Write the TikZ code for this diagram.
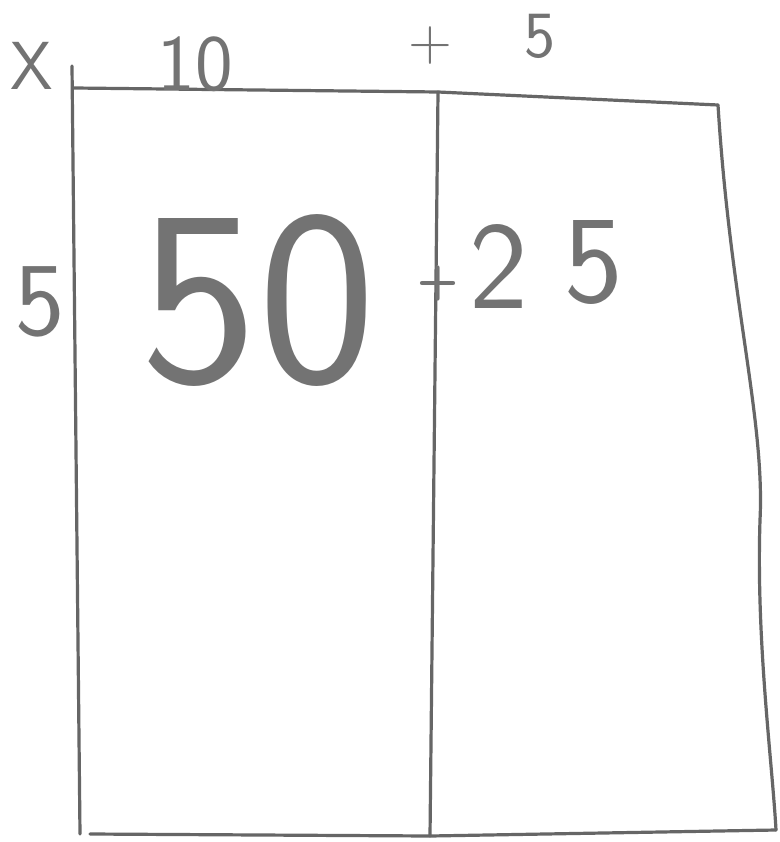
\documentclass[tikz,border=0pt]{standalone}
\begin{document}
\begin{tikzpicture}[x=1pt,y=-1pt,
  pen/.style={draw=black!60, line width=3.2pt, line cap=round, line join=round},
  hand/.style={text=black!55, font=\sffamily, inner sep=0pt}]
\useasboundingbox[fill=white] (0,0) rectangle (779,842);
% corners of the box
\coordinate (tl) at (74,88);
\coordinate (tm) at (438,92);
\coordinate (tr) at (718,105);
\coordinate (bl) at (80,834);
\coordinate (bm) at (430,836);
\coordinate (br) at (776,830);
% left side (runs a bit above the top line)
\draw[pen] (72,66) -- (bl);
% top
\draw[pen] (tl) -- (tm) -- (tr);
% right side, slightly wavy
\draw[pen] (tr) .. controls (730,300) and (765,420) .. (760,520) .. controls (756,640) and (772,760) .. (br);
% bottom
\draw[pen] (90,834) -- (bm) -- (br);
% middle divider
\draw[pen] (tm) -- (bm);
% labels
\node[hand, font=\sffamily\fontsize{68}{68}\selectfont] (x) at (32,66) {X};
\node[hand, font=\sffamily\fontsize{80}{80}\selectfont] (ten) at (195,64) {10};
\node[hand, font=\sffamily\fontsize{60}{60}\selectfont] (plus1) at (430,46) {+};
\node[hand, font=\sffamily\fontsize{66}{66}\selectfont] (five1) at (540,36) {5};
\node[hand, font=\sffamily\fontsize{105}{105}\selectfont] (five2) at (40,302) {5};
\node[hand, font=\sffamily\fontsize{250}{250}\selectfont] (fifty) at (258,300) {50};
\node[hand, font=\sffamily\bfseries\fontsize{48}{48}\selectfont] (plus2) at (438,283) {+};
\node[hand, font=\sffamily\fontsize{125}{125}\selectfont] (two) at (499,266) {2};
\node[hand, font=\sffamily\fontsize{125}{125}\selectfont] (five3) at (594,262) {5};
\end{tikzpicture}
\end{document}
